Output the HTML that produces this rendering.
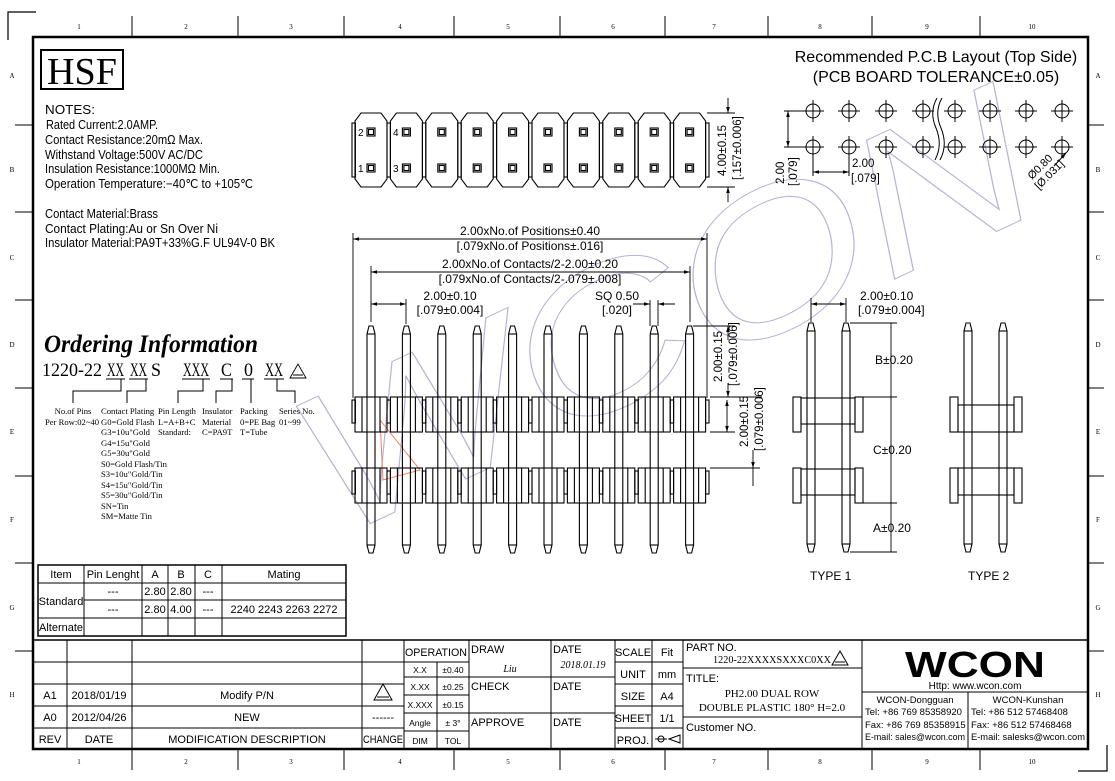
<!DOCTYPE html>
<html><head><meta charset="utf-8"><style>
html,body{margin:0;padding:0;background:#fff}
svg{display:block}
text{font-family:"Liberation Sans",sans-serif;fill:#000}
.s{font-family:"Liberation Serif",serif}
</style></head><body>
<svg width="1115" height="781" viewBox="0 0 1115 781" xmlns="http://www.w3.org/2000/svg">
<defs>
<marker id="ar" viewBox="0 0 10 10" refX="10" refY="5" markerWidth="8" markerHeight="6" orient="auto-start-reverse" markerUnits="userSpaceOnUse"><path d="M0,2 L10,5 L0,8 Z" fill="#000"/></marker>
<g id="fp" fill="none" stroke="#000" stroke-width="1.1">
<path d="M-4,334 L-2,326 L2,326 L4,334 L4,545 L2,553 L-2,553 L-4,545 Z"/>
<line x1="-4" y1="334" x2="4" y2="334"/><line x1="-4" y1="545" x2="4" y2="545"/>
<rect x="-16" y="397" width="32" height="35"/><line x1="-9" y1="397" x2="-9" y2="432"/><line x1="9" y1="397" x2="9" y2="432"/>
<rect x="16" y="400" width="3.4" height="23"/>
<rect x="-16" y="468" width="32" height="35"/><line x1="-9" y1="468" x2="-9" y2="503"/><line x1="9" y1="468" x2="9" y2="503"/>
<rect x="16" y="471" width="3.4" height="23"/>
</g>
<g id="tb" fill="none" stroke="#000" stroke-width="1.1">
<path d="M-10,113 L10,113 L16,121 L16,179 L10,187 L-10,187 L-16,179 L-16,121 Z"/>
<rect x="-4" y="128" width="8" height="8"/><rect x="-2.5" y="129.5" width="5" height="5"/>
<rect x="-4" y="164" width="8" height="8"/><rect x="-2.5" y="165.5" width="5" height="5"/>
<rect x="16" y="123" width="3.4" height="54"/>
</g>
<g id="hc" fill="none" stroke="#000" stroke-width="1"><circle cx="0" cy="0" r="7"/><line x1="-11" y1="0" x2="11" y2="0"/><line x1="0" y1="-11" x2="0" y2="11"/></g>
<g id="sp" fill="none" stroke="#000" stroke-width="1.1"><path d="M-4,331 L-2,323 L2,323 L4,331 L4,544 L2,552 L-2,552 L-4,544 Z"/><line x1="-4" y1="331" x2="4" y2="331"/><line x1="-4" y1="544" x2="4" y2="544"/></g>
</defs>

<!-- watermark -->
<text x="335" y="540" transform="rotate(-25 335 540)" textLength="790" lengthAdjust="spacingAndGlyphs" style="font-family:'Liberation Sans',sans-serif;font-size:200px;font-style:italic;fill:none;stroke:#b4b4d6;stroke-width:1">WCON</text>
<path d="M380,420 L420,470 L383,480 Z" fill="none" stroke="#f08060" stroke-width="1"/>

<!-- frame -->
<rect x="33" y="37" width="1055" height="712" fill="none" stroke="#000" stroke-width="2.5"/>
<path d="M8,40 L8,12 L36,12" fill="none" stroke="#000" stroke-width="1.2"/>
<path d="M1107,745 L1107,771 L1078,771" fill="none" stroke="#000" stroke-width="1.2"/>
<g stroke="#000" stroke-width="1">
<line x1="132" y1="16" x2="132" y2="37"/><line x1="238" y1="16" x2="238" y2="37"/><line x1="344" y1="16" x2="344" y2="37"/><line x1="454" y1="16" x2="454" y2="37"/><line x1="560" y1="16" x2="560" y2="37"/><line x1="665" y1="16" x2="665" y2="37"/><line x1="768" y1="16" x2="768" y2="37"/><line x1="872" y1="16" x2="872" y2="37"/><line x1="980" y1="16" x2="980" y2="37"/>
<line x1="132" y1="749" x2="132" y2="770"/><line x1="238" y1="749" x2="238" y2="770"/><line x1="344" y1="749" x2="344" y2="770"/><line x1="454" y1="749" x2="454" y2="770"/><line x1="560" y1="749" x2="560" y2="770"/><line x1="665" y1="749" x2="665" y2="770"/><line x1="768" y1="749" x2="768" y2="770"/><line x1="872" y1="749" x2="872" y2="770"/><line x1="980" y1="749" x2="980" y2="770"/>
<line x1="15" y1="125" x2="33" y2="125"/><line x1="15" y1="212" x2="33" y2="212"/><line x1="15" y1="300" x2="33" y2="300"/><line x1="15" y1="388" x2="33" y2="388"/><line x1="15" y1="476" x2="33" y2="476"/><line x1="15" y1="563" x2="33" y2="563"/><line x1="15" y1="651" x2="33" y2="651"/>
<line x1="1088" y1="125" x2="1104" y2="125"/><line x1="1088" y1="212" x2="1104" y2="212"/><line x1="1088" y1="300" x2="1104" y2="300"/><line x1="1088" y1="388" x2="1104" y2="388"/><line x1="1088" y1="476" x2="1104" y2="476"/><line x1="1088" y1="563" x2="1104" y2="563"/><line x1="1088" y1="651" x2="1104" y2="651"/>
</g>
<g class="s" font-size="7" text-anchor="middle" fill="#444">
<text x="79" y="29" class="s">1</text><text x="186" y="29" class="s">2</text><text x="291" y="29" class="s">3</text><text x="400" y="29" class="s">4</text><text x="508" y="29" class="s">5</text><text x="613" y="29" class="s">6</text><text x="714" y="29" class="s">7</text><text x="820" y="29" class="s">8</text><text x="927" y="29" class="s">9</text><text x="1032" y="29" class="s">10</text>
<text x="79" y="764" class="s">1</text><text x="186" y="764" class="s">2</text><text x="291" y="764" class="s">3</text><text x="400" y="764" class="s">4</text><text x="508" y="764" class="s">5</text><text x="613" y="764" class="s">6</text><text x="714" y="764" class="s">7</text><text x="820" y="764" class="s">8</text><text x="927" y="764" class="s">9</text><text x="1032" y="764" class="s">10</text>
<text x="12" y="78" class="s">A</text><text x="12" y="172" class="s">B</text><text x="12" y="260" class="s">C</text><text x="12" y="347" class="s">D</text><text x="12" y="434" class="s">E</text><text x="12" y="522" class="s">F</text><text x="12" y="610" class="s">G</text><text x="12" y="697" class="s">H</text>
<text x="1098" y="78" class="s">A</text><text x="1098" y="172" class="s">B</text><text x="1098" y="260" class="s">C</text><text x="1098" y="347" class="s">D</text><text x="1098" y="434" class="s">E</text><text x="1098" y="522" class="s">F</text><text x="1098" y="610" class="s">G</text><text x="1098" y="697" class="s">H</text>
</g>

<!-- HSF + notes -->
<rect x="41" y="50" width="82" height="39" fill="none" stroke="#000" stroke-width="2"/>
<text x="82" y="84" class="s" font-size="38" text-anchor="middle" textLength="70" lengthAdjust="spacingAndGlyphs">HSF</text>
<g font-size="12.5">
<text x="45" y="114" textLength="50" lengthAdjust="spacingAndGlyphs">NOTES:</text>
<text x="46" y="129" textLength="112" lengthAdjust="spacingAndGlyphs">Rated Current:2.0AMP.</text>
<text x="45" y="144" textLength="158" lengthAdjust="spacingAndGlyphs">Contact Resistance:20mΩ Max.</text>
<text x="45" y="159" textLength="158" lengthAdjust="spacingAndGlyphs">Withstand Voltage:500V AC/DC</text>
<text x="45" y="173" textLength="175" lengthAdjust="spacingAndGlyphs">Insulation Resistance:1000MΩ Min.</text>
<text x="45" y="188" textLength="208" lengthAdjust="spacingAndGlyphs">Operation Temperature:−40℃ to +105℃</text>
<text x="45" y="218" textLength="113" lengthAdjust="spacingAndGlyphs">Contact Material:Brass</text>
<text x="45" y="233" textLength="173" lengthAdjust="spacingAndGlyphs">Contact Plating:Au or Sn Over Ni</text>
<text x="45" y="247" textLength="230" lengthAdjust="spacingAndGlyphs">Insulator Material:PA9T+33%G.F UL94V-0 BK</text>
</g>

<!-- ordering -->
<text x="44" y="352" class="s" font-size="25" font-weight="bold" font-style="italic" textLength="214" lengthAdjust="spacingAndGlyphs">Ordering Information</text>
<g class="s" font-size="19">
<text x="42" y="376" class="s" textLength="60" lengthAdjust="spacingAndGlyphs">1220-22</text>
<text x="107" y="376" class="s" textLength="17" lengthAdjust="spacingAndGlyphs">XX</text>
<text x="130" y="376" class="s" textLength="17" lengthAdjust="spacingAndGlyphs">XX</text>
<text x="151" y="376" class="s" textLength="10" lengthAdjust="spacingAndGlyphs">S</text>
<text x="183" y="376" class="s" textLength="26" lengthAdjust="spacingAndGlyphs">XXX</text>
<text x="221" y="376" class="s" textLength="11" lengthAdjust="spacingAndGlyphs">C</text>
<text x="244" y="376" class="s" textLength="9" lengthAdjust="spacingAndGlyphs">0</text>
<text x="265" y="376" class="s" textLength="18" lengthAdjust="spacingAndGlyphs">XX</text>
</g>
<path d="M298,364 L290,378 L306,378 Z M293,375 L303,375" fill="none" stroke="#000" stroke-width="0.9"/>
<g stroke="#000" stroke-width="1" fill="none">
<line x1="106" y1="379" x2="125" y2="379"/><line x1="129" y1="379" x2="148" y2="379"/><line x1="182" y1="379" x2="210" y2="379"/><line x1="220" y1="379" x2="233" y2="379"/><line x1="242" y1="379" x2="254" y2="379"/><line x1="264" y1="379" x2="284" y2="379"/>
<path d="M121,379 V391 H73 V403"/><path d="M146,379 V391 H127 V403"/><path d="M203,379 V391 H178 V403"/><path d="M232,379 V391 H216 V403"/><path d="M251,379 V403"/><path d="M277,379 V391 H295 V403"/>
</g>
<g class="s" font-size="8.6">
<text x="73" y="414" class="s" text-anchor="middle">No.of Pins</text>
<text x="45" y="425" class="s">Per Row:02~40</text>
<text x="101" y="414" class="s">Contact Plating</text>
<text x="101" y="425" class="s">G0=Gold Flash</text>
<text x="101" y="435" class="s">G3=10u"Gold</text>
<text x="101" y="446" class="s">G4=15u"Gold</text>
<text x="101" y="456" class="s">G5=30u"Gold</text>
<text x="101" y="467" class="s">S0=Gold Flash/Tin</text>
<text x="101" y="477" class="s">S3=10u"Gold/Tin</text>
<text x="101" y="488" class="s">S4=15u"Gold/Tin</text>
<text x="101" y="498" class="s">S5=30u"Gold/Tin</text>
<text x="101" y="509" class="s">SN=Tin</text>
<text x="101" y="519" class="s">SM=Matte Tin</text>
<text x="158" y="414" class="s">Pin Length</text>
<text x="158" y="425" class="s">L=A+B+C</text>
<text x="158" y="435" class="s">Standard:</text>
<text x="202" y="414" class="s">Insulator</text>
<text x="202" y="425" class="s">Material</text>
<text x="202" y="435" class="s">C=PA9T</text>
<text x="240" y="414" class="s">Packing</text>
<text x="240" y="425" class="s">0=PE Bag</text>
<text x="240" y="435" class="s">T=Tube</text>
<text x="279" y="414" class="s">Series No.</text>
<text x="279" y="425" class="s">01~99</text>
</g>

<!-- table -->
<g stroke="#000" stroke-width="1" fill="none">
<rect x="38" y="565" width="308" height="71" stroke-width="1.5"/>
<line x1="38" y1="583" x2="346" y2="583"/><line x1="84" y1="600" x2="346" y2="600"/><line x1="38" y1="618" x2="346" y2="618"/>
<line x1="84" y1="565" x2="84" y2="636"/><line x1="142" y1="565" x2="142" y2="636"/><line x1="168" y1="565" x2="168" y2="636"/><line x1="195" y1="565" x2="195" y2="636"/><line x1="222" y1="565" x2="222" y2="636"/>
</g>
<g font-size="11" text-anchor="middle">
<text x="61" y="578">Item</text><text x="113" y="578">Pin Lenght</text><text x="155" y="578">A</text><text x="181" y="578">B</text><text x="208" y="578">C</text><text x="284" y="578">Mating</text>
<text x="61" y="605">Standard</text><text x="113" y="595">---</text><text x="155" y="595">2.80</text><text x="181" y="595">2.80</text><text x="208" y="595">---</text>
<text x="113" y="613">---</text><text x="155" y="613">2.80</text><text x="181" y="613">4.00</text><text x="208" y="613">---</text><text x="284" y="613">2240 2243 2263 2272</text>
<text x="61" y="631">Alternate</text>
</g>

<!-- top view -->
<rect x="352" y="123" width="3.4" height="54" fill="none" stroke="#000" stroke-width="1.1"/>
<use href="#tb" x="371"/><use href="#tb" x="406.4"/><use href="#tb" x="441.8"/><use href="#tb" x="477.2"/><use href="#tb" x="512.6"/><use href="#tb" x="548"/><use href="#tb" x="583.4"/><use href="#tb" x="618.8"/><use href="#tb" x="654.2"/><use href="#tb" x="689.6"/>
<g font-size="10"><text x="358" y="136">2</text><text x="358" y="172">1</text><text x="393" y="136">4</text><text x="393" y="172">3</text></g>
<g stroke="#000" stroke-width="0.9"><line x1="707" y1="113" x2="735" y2="113"/><line x1="707" y1="187" x2="735" y2="187"/><line x1="728" y1="98" x2="728" y2="113" marker-end="url(#ar)"/><line x1="728" y1="202" x2="728" y2="187" marker-end="url(#ar)"/></g>
<text transform="translate(726,176) rotate(-90)" font-size="11.5">4.00±0.15</text>
<text transform="translate(741,180) rotate(-90)" font-size="11.5">[.157±0.006]</text>

<!-- front view -->
<rect x="352" y="400" width="3.4" height="23" fill="none" stroke="#000" stroke-width="1.1"/>
<rect x="352" y="471" width="3.4" height="23" fill="none" stroke="#000" stroke-width="1.1"/>
<use href="#fp" x="371"/><use href="#fp" x="406.4"/><use href="#fp" x="441.8"/><use href="#fp" x="477.2"/><use href="#fp" x="512.6"/><use href="#fp" x="548"/><use href="#fp" x="583.4"/><use href="#fp" x="618.8"/><use href="#fp" x="654.2"/><use href="#fp" x="689.6"/>
<g stroke="#000" stroke-width="0.9" fill="none">
<line x1="353" y1="233" x2="353" y2="398"/><line x1="707" y1="233" x2="707" y2="398"/>
<line x1="353" y1="239" x2="707" y2="239" marker-start="url(#ar)" marker-end="url(#ar)"/>
<line x1="371" y1="266" x2="371" y2="322"/><line x1="690" y1="266" x2="690" y2="322"/>
<line x1="371" y1="272" x2="690" y2="272" marker-start="url(#ar)" marker-end="url(#ar)"/>
<line x1="406" y1="299" x2="406" y2="324"/>
<line x1="371" y1="304" x2="406" y2="304" marker-start="url(#ar)" marker-end="url(#ar)"/>
<line x1="633" y1="304" x2="650" y2="304" marker-end="url(#ar)"/><line x1="675" y1="304" x2="658" y2="304" marker-end="url(#ar)"/>
<line x1="658" y1="300" x2="658" y2="326"/><line x1="650" y1="300" x2="650" y2="326"/>
<line x1="693" y1="326" x2="735" y2="326"/><line x1="710" y1="397" x2="762" y2="397"/><line x1="710" y1="432" x2="735" y2="432"/><line x1="710" y1="468" x2="760" y2="468"/>
<line x1="728" y1="340" x2="728" y2="326" marker-end="url(#ar)"/><line x1="728" y1="383" x2="728" y2="397" marker-end="url(#ar)"/>
<line x1="727" y1="400" x2="727" y2="432" marker-start="url(#ar)" marker-end="url(#ar)"/>
<line x1="753" y1="450" x2="753" y2="468" marker-end="url(#ar)"/><line x1="753" y1="486" x2="753" y2="468"/>
</g>
<g font-size="12" text-anchor="middle">
<text x="530" y="235">2.00xNo.of Positions±0.40</text>
<text x="530" y="250">[.079xNo.of Positions±.016]</text>
<text x="530" y="268">2.00xNo.of Contacts/2-2.00±0.20</text>
<text x="530" y="283">[.079xNo.of Contacts/2-.079±.008]</text>
<text x="450" y="300">2.00±0.10</text>
<text x="450" y="314">[.079±0.004]</text>
<text x="617" y="300">SQ 0.50</text>
<text x="617" y="314">[.020]</text>
</g>
<text transform="translate(722,382) rotate(-90)" font-size="11.5">2.00±0.15</text>
<text transform="translate(737,386) rotate(-90)" font-size="11.5">[.079±0.006]</text>
<text transform="translate(748,447) rotate(-90)" font-size="11.5">2.00±0.15</text>
<text transform="translate(763,451) rotate(-90)" font-size="11.5">[.079±0.006]</text>

<!-- side views -->
<use href="#sp" x="811"/><use href="#sp" x="846"/><use href="#sp" x="968"/><use href="#sp" x="1003"/>
<g fill="none" stroke="#000" stroke-width="1.1">
<rect x="793" y="397" width="8" height="35"/><rect x="855" y="397" width="8" height="35"/><rect x="801" y="398" width="54" height="26"/>
<rect x="793" y="468" width="8" height="35"/><rect x="855" y="468" width="8" height="35"/><rect x="801" y="469" width="54" height="26"/>
<rect x="950" y="397" width="8" height="35"/><rect x="1014" y="397" width="8" height="35"/><rect x="958" y="405" width="56" height="27"/>
<rect x="950" y="468" width="8" height="35"/><rect x="1014" y="468" width="8" height="35"/><rect x="958" y="468" width="56" height="27"/>
</g>
<g stroke="#000" stroke-width="0.9">
<line x1="811" y1="298" x2="811" y2="322"/><line x1="846" y1="298" x2="846" y2="322"/>
<line x1="811" y1="304" x2="846" y2="304" marker-start="url(#ar)" marker-end="url(#ar)"/>
<line x1="850" y1="323" x2="897" y2="323"/><line x1="863" y1="397" x2="897" y2="397"/><line x1="863" y1="503" x2="897" y2="503"/><line x1="850" y1="552" x2="897" y2="552"/>
<line x1="891" y1="323" x2="891" y2="552"/>
</g>
<g font-size="12">
<text x="860" y="300">2.00±0.10</text><text x="858" y="314">[.079±0.004]</text>
<text x="875" y="364">B±0.20</text><text x="873" y="454">C±0.20</text><text x="873" y="532">A±0.20</text>
<text x="810" y="580">TYPE 1</text><text x="968" y="580">TYPE 2</text>
</g>

<!-- PCB layout -->
<text x="936" y="62" font-size="16" text-anchor="middle">Recommended P.C.B Layout (Top Side)</text>
<text x="936" y="82" font-size="16" text-anchor="middle">(PCB BOARD TOLERANCE±0.05)</text>
<use href="#hc" x="813" y="111"/><use href="#hc" x="849" y="111"/><use href="#hc" x="886" y="111"/><use href="#hc" x="923" y="111"/><use href="#hc" x="955" y="111"/><use href="#hc" x="990" y="111"/><use href="#hc" x="1026" y="111"/><use href="#hc" x="1062" y="111"/>
<use href="#hc" x="813" y="147"/><use href="#hc" x="849" y="147"/><use href="#hc" x="886" y="147"/><use href="#hc" x="923" y="147"/><use href="#hc" x="955" y="147"/><use href="#hc" x="990" y="147"/><use href="#hc" x="1026" y="147"/><use href="#hc" x="1062" y="147"/>
<g fill="none" stroke="#000" stroke-width="1">
<path d="M937,98 Q929,112 936,128 Q943,145 935,160"/><path d="M942,98 Q934,112 941,128 Q948,145 940,160"/>
<line x1="784" y1="111" x2="802" y2="111"/><line x1="784" y1="147" x2="802" y2="147"/>
<line x1="788" y1="111" x2="788" y2="147" marker-start="url(#ar)" marker-end="url(#ar)"/>
<line x1="813" y1="150" x2="813" y2="176"/><line x1="849" y1="150" x2="849" y2="176"/>
<line x1="813" y1="172" x2="849" y2="172" marker-start="url(#ar)" marker-end="url(#ar)"/>
<line x1="1054" y1="166" x2="1066" y2="153" marker-end="url(#ar)"/>
</g>
<text transform="translate(784,184) rotate(-90)" font-size="11.5">2.00</text>
<text transform="translate(797,186) rotate(-90)" font-size="11.5">[.079]</text>
<text x="852" y="167" font-size="11.5">2.00</text><text x="851" y="182" font-size="11.5">[.079]</text>
<text transform="translate(1032,180) rotate(-45)" font-size="11">Ø0.80</text>
<text transform="translate(1039,190) rotate(-45)" font-size="11">[Ø.031]</text>

<!-- title block -->
<g stroke="#000" fill="none" stroke-width="1">
<line x1="33" y1="640" x2="1088" y2="640" stroke-width="1.5"/>
<line x1="33" y1="662" x2="404" y2="662"/><line x1="33" y1="684" x2="404" y2="684"/><line x1="33" y1="706" x2="404" y2="706"/><line x1="33" y1="728" x2="404" y2="728"/>
<line x1="67" y1="640" x2="67" y2="749"/><line x1="132" y1="640" x2="132" y2="749"/><line x1="362" y1="640" x2="362" y2="749"/><line x1="404" y1="640" x2="404" y2="749"/>
<line x1="404" y1="662" x2="469" y2="662"/><line x1="404" y1="677" x2="469" y2="677"/><line x1="404" y1="695" x2="469" y2="695"/><line x1="404" y1="713" x2="469" y2="713"/><line x1="404" y1="731" x2="469" y2="731"/>
<line x1="437" y1="662" x2="437" y2="749"/><line x1="469" y1="640" x2="469" y2="749"/>
<line x1="469" y1="677" x2="615" y2="677"/><line x1="469" y1="713" x2="615" y2="713"/>
<line x1="551" y1="640" x2="551" y2="749"/><line x1="615" y1="640" x2="615" y2="749"/><line x1="652" y1="640" x2="652" y2="749"/><line x1="683" y1="640" x2="683" y2="749"/>
<line x1="615" y1="662" x2="683" y2="662"/><line x1="615" y1="684" x2="683" y2="684"/><line x1="615" y1="706" x2="683" y2="706"/><line x1="615" y1="728" x2="683" y2="728"/>
<line x1="683" y1="668" x2="862" y2="668"/><line x1="683" y1="717" x2="862" y2="717"/>
<line x1="862" y1="640" x2="862" y2="749"/><line x1="862" y1="692" x2="1088" y2="692"/><line x1="968" y1="692" x2="968" y2="749"/>
</g>
<g font-size="11">
<text x="50" y="699" text-anchor="middle">A1</text><text x="99" y="699" text-anchor="middle">2018/01/19</text><text x="247" y="699" text-anchor="middle">Modify P/N</text>
<text x="50" y="721" text-anchor="middle">A0</text><text x="99" y="721" text-anchor="middle">2012/04/26</text><text x="247" y="721" text-anchor="middle">NEW</text><text x="383" y="721" text-anchor="middle">------</text>
<text x="50" y="743" text-anchor="middle">REV</text><text x="99" y="743" text-anchor="middle">DATE</text><text x="247" y="743" text-anchor="middle">MODIFICATION  DESCRIPTION</text><text x="383" y="743" text-anchor="middle" textLength="40" lengthAdjust="spacingAndGlyphs">CHANGE</text>
<text x="436" y="656" text-anchor="middle" textLength="62" lengthAdjust="spacingAndGlyphs">OPERATION</text>
<text x="471" y="653">DRAW</text><text x="553" y="653">DATE</text><text x="471" y="690">CHECK</text><text x="553" y="690">DATE</text><text x="471" y="726">APPROVE</text><text x="553" y="726">DATE</text>
<text x="633" y="656" text-anchor="middle">SCALE</text><text x="667" y="656" text-anchor="middle">Fit</text>
<text x="633" y="678" text-anchor="middle">UNIT</text><text x="667" y="678" text-anchor="middle">mm</text>
<text x="633" y="700" text-anchor="middle">SIZE</text><text x="667" y="700" text-anchor="middle">A4</text>
<text x="633" y="722" text-anchor="middle">SHEET</text><text x="667" y="722" text-anchor="middle">1/1</text>
<text x="633" y="744" text-anchor="middle">PROJ.</text>
<text x="686" y="651">PART NO.</text><text x="686" y="682">TITLE:</text><text x="686" y="731">Customer NO.</text>
</g>
<g font-size="8.5" text-anchor="middle">
<text x="420" y="673">X.X</text><text x="453" y="673">±0.40</text>
<text x="420" y="690">X.XX</text><text x="453" y="690">±0.25</text>
<text x="420" y="708">X.XXX</text><text x="453" y="708">±0.15</text>
<text x="420" y="726">Angle</text><text x="453" y="726">± 3°</text>
<text x="420" y="744">DIM</text><text x="453" y="744">TOL</text>
</g>
<text x="510" y="672" class="s" font-size="10" font-style="italic" text-anchor="middle">Liu</text>
<text x="583" y="668" class="s" font-size="10" font-style="italic" text-anchor="middle">2018.01.19</text>
<g stroke="#000" fill="none" stroke-width="1"><path d="M383,684 L374,700 L392,700 Z M377,697 L389,697"/><path d="M840,651 L832,665 L848,665 Z M835,662 L845,662"/><circle cx="661" cy="739" r="3"/><line x1="655" y1="739" x2="667" y2="739"/><path d="M669,739 L680,735 L680,743 Z"/></g>
<text x="772" y="663" class="s" font-size="11" text-anchor="middle" textLength="118" lengthAdjust="spacingAndGlyphs">1220-22XXXXSXXXC0XX</text>
<text x="772" y="697" class="s" font-size="11" text-anchor="middle">PH2.00 DUAL ROW</text>
<text x="772" y="711" class="s" font-size="11" text-anchor="middle">DOUBLE PLASTIC 180° H=2.0</text>
<text x="975" y="677" font-size="36" font-weight="bold" text-anchor="middle" textLength="140" lengthAdjust="spacingAndGlyphs">WCON</text>
<text x="975" y="689" font-size="10" text-anchor="middle">Http: www.wcon.com</text>
<g font-size="9.5">
<text x="915" y="703" text-anchor="middle">WCON-Dongguan</text><text x="865" y="715">Tel: +86 769 85358920</text><text x="865" y="728">Fax: +86 769 85358915</text><text x="865" y="740" textLength="100" lengthAdjust="spacingAndGlyphs">E-mail: sales@wcon.com</text>
<text x="1028" y="703" text-anchor="middle">WCON-Kunshan</text><text x="971" y="715">Tel: +86 512 57468408</text><text x="971" y="728">Fax: +86 512 57468468</text><text x="971" y="740" textLength="114" lengthAdjust="spacingAndGlyphs">E-mail: salesks@wcon.com</text>
</g>
</svg>
</body></html>
